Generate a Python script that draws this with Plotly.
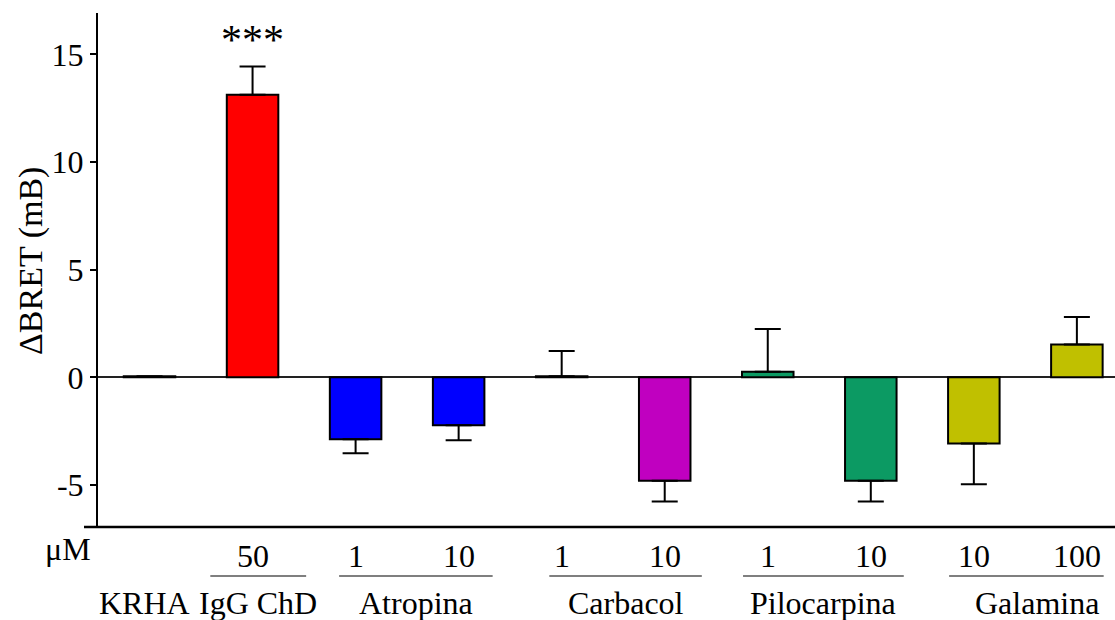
import plotly.graph_objects as go

# ---- data ----
bar_labels = ["KRHA", "IgG ChD 50", "Atropina 1", "Atropina 10", "Carbacol 1",
              "Carbacol 10", "Pilocarpina 1", "Pilocarpina 10", "Galamina 10", "Galamina 100"]
values = [0.05, 13.12, -2.88, -2.22, 0.05, -4.80, 0.26, -4.80, -3.07, 1.53]
errors = [0.0, 1.32, 0.65, 0.70, 1.17, 0.96, 1.98, 0.96, 1.89, 1.27]
colors = ["#000000", "#FF0000", "#0000FF", "#0000FF", "#000000",
          "#C000C0", "#0C9A63", "#0C9A63", "#C0C000", "#C0C000"]
conc_labels = ["", "50", "1", "10", "1", "10", "1", "10", "10", "100"]
groups = ["KRHA", "IgG ChD", "Atropina", "Carbacol", "Pilocarpina", "Galamina"]
group_bars = [(0, 0), (1, 1), (2, 3), (4, 5), (6, 7), (8, 9)]
yticks = [-5, 0, 5, 10, 15]
ytick_text = ["-5", "0", "5", "10", "15"]

FONT = "Liberation Serif"
FS = 32

x = list(range(len(values)))
err_plus = [e if v >= 0 else 0 for v, e in zip(values, errors)]
err_minus = [e if v < 0 else 0 for v, e in zip(values, errors)]

fig = go.Figure()
fig.add_trace(go.Bar(
    x=x, y=values, width=0.5,
    marker=dict(color=colors, line=dict(color="black", width=2)),
    error_y=dict(type="data", symmetric=False, array=err_plus, arrayminus=err_minus,
                 color="black", thickness=2, width=13),
    hoverinfo="y",
))

# pixel helpers for paper coordinates
L, T, B, W, H = 98, 13, 93, 1115, 620
pw, ph = W - L, H - T - B
def py(p):
    return (H - B - p) / ph
def px(p):
    return (p - L) / pw

TF = dict(family=FONT, size=FS, color="black")
ann = []
ann.append(dict(text="μM", x=px(68), y=py(549), xref="paper", yref="paper",
                xanchor="center", yanchor="middle", showarrow=False, font=TF))
for i, t in enumerate(conc_labels):
    if t:
        ann.append(dict(text=t, x=i, y=py(556), xref="x", yref="paper",
                        xanchor="center", yanchor="middle", showarrow=False, font=TF))

shapes = []
# group underline extents relative to bar indices
spans = [None, (-0.41, 0.52), (-0.16, 0.33), (-0.12, 0.36), (-0.24, 0.32), (-0.24, 0.26)]
label_shift = [-0.05, 0.0, 0.0, 0.0, 0.0, 0.1]
for g, (a, b), sp, sh in zip(groups, group_bars, spans, label_shift):
    if sp is None:
        cx = a + sh
    else:
        x0, x1 = a + sp[0], b + sp[1]
        shapes.append(dict(type="line", xref="x", yref="paper", x0=x0, x1=x1,
                           y0=py(576), y1=py(576), line=dict(color="#555555", width=1.5)))
        cx = (x0 + x1) / 2 + sh
    ann.append(dict(text=g, x=cx, y=py(603), xref="x", yref="paper",
                    xanchor="center", yanchor="middle", showarrow=False, font=TF))

# significance stars
ann.append(dict(text="***", x=1, y=values[1] + errors[1], xref="x", yref="y",
                yshift=26, showarrow=False, xanchor="center", yanchor="middle",
                font=dict(family=FONT, size=42, color="black")))

# y-axis title
ann.append(dict(text="ΔBRET (mB)", x=px(31), y=py(261), xref="paper", yref="paper",
                xanchor="center", yanchor="middle",
                textangle=-90, showarrow=False, font=dict(family=FONT, size=34, color="black")))

# bottom axis line (extends slightly left of y-axis)
shapes.append(dict(type="line", xref="paper", yref="paper", x0=px(84), x1=1,
                   y0=0, y1=0, line=dict(color="black", width=2.5)))

fig.update_layout(
    width=W, height=H,
    margin=dict(l=L, r=0, t=T, b=B),
    plot_bgcolor="white", paper_bgcolor="white",
    showlegend=False,
    annotations=ann, shapes=shapes,
    font=TF,
    xaxis=dict(range=[-0.5, 9.37], showticklabels=False, showgrid=False,
               zeroline=False, showline=False, ticks=""),
    yaxis=dict(range=[-6.95, 16.92], tickvals=yticks, ticktext=ytick_text,
               showgrid=False, zeroline=True, zerolinecolor="#222222", zerolinewidth=2,
               showline=True, linecolor="black", linewidth=2,
               ticks="outside", ticklen=6, tickwidth=2, tickcolor="black",
               tickfont=TF),
)

fig.write_html("out.html")
